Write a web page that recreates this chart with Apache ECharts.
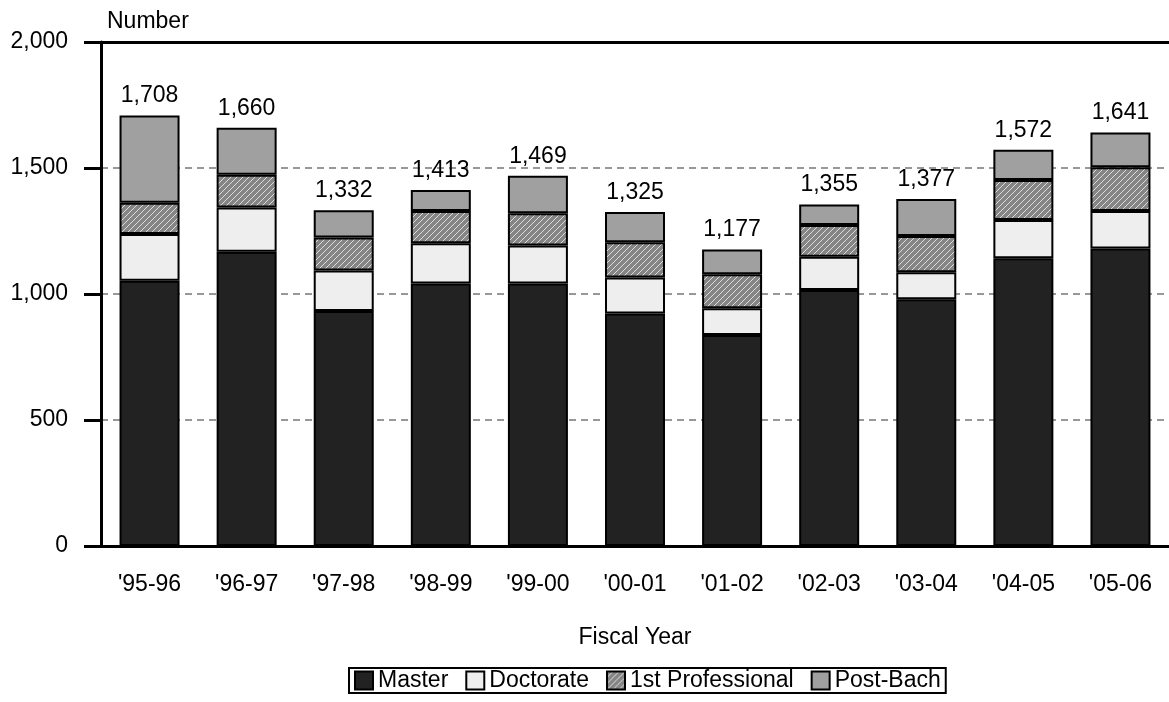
<!DOCTYPE html>
<html><head><meta charset="utf-8">
<script src="https://cdn.jsdelivr.net/npm/echarts@6/dist/echarts.min.js"></script>
<style>html,body{margin:0;padding:0;background:#fff}#c{width:1169px;height:702px}</style>
</head><body><div id="c"></div>
<script>
const categories = ["'95-96","'96-97","'97-98","'98-99","'99-00","'00-01","'01-02","'02-03","'03-04","'04-05","'05-06"];
const master     = [1053, 1168, 933, 1042, 1042, 923, 837, 1016, 979, 1142, 1181];
const doctorate  = [185, 175, 160, 159, 150, 142, 106, 132, 107, 152, 148];
const firstProf  = [124, 130, 131, 128, 128, 140, 135, 126, 144, 158, 174];
const postBach   = [346, 187, 108, 84, 149, 120, 99, 81, 147, 120, 138];
const seriesNames = ["Master", "Doctorate", "1st Professional", "Post-Bach"];
const yMin = 0, yMax = 2000, yStep = 500;

function hatch(){
  const c = document.createElement('canvas'); c.width = 6; c.height = 6;
  const g = c.getContext('2d');
  g.fillStyle = '#858585'; g.fillRect(0,0,6,6);
  g.strokeStyle = '#dcdcdc'; g.lineWidth = 1;
  g.beginPath();
  g.moveTo(0,6); g.lineTo(6,0);
  g.moveTo(-3,3); g.lineTo(3,-3);
  g.moveTo(3,9); g.lineTo(9,3);
  g.stroke();
  return c;
}
const fmt = v => Number(v).toLocaleString('en-US');
const FONT = 'Liberation Sans, Arial, sans-serif';
const FS = 23;
const border = {borderColor:'#000', borderWidth:2};
const fills = ['#222222', '#eeeeee', {image: hatch(), repeat: 'repeat'}, '#a0a0a0'];
const datasets = [master, doctorate, firstProf, postBach];

const chart = echarts.init(document.getElementById('c'));
chart.setOption({
  animation: false,
  textStyle: {fontFamily: FONT},
  grid: {left: 101, top: 42, width: 1078, height: 504},
  legend: {
    data: seriesNames, left: 349, top: 668,
    borderColor: '#000', borderWidth: 2, padding: [1, 5],
    itemWidth: 18, itemHeight: 18, itemGap: 17,
    textStyle: {fontSize: FS, color: '#000', fontFamily: FONT},
    icon: 'rect'
  },
  xAxis: [{
    type: 'category', data: categories,
    name: 'Fiscal Year', nameLocation: 'middle', nameGap: 80,
    nameTextStyle: {fontSize: FS, color: '#000', fontFamily: FONT},
    axisLine: {lineStyle: {color: '#000', width: 3}},
    axisTick: {alignWithLabel: true, length: 17, lineStyle: {color: '#000', width: 3}},
    axisLabel: {fontSize: FS, color: '#000', margin: 27, interval: 0, fontFamily: FONT}
  }, {
    type: 'category', data: categories, position: 'top',
    axisLine: {show: true, lineStyle: {color: '#000', width: 3}},
    axisTick: {show: false}, axisLabel: {show: false}
  }],
  yAxis: {
    type: 'value', min: yMin, max: yMax, interval: yStep,
    name: 'Number', nameLocation: 'end', nameGap: 9,
    nameTextStyle: {fontSize: FS, color: '#000', align: 'left', padding: [0,0,0,6], fontFamily: FONT},
    axisLine: {show: true, lineStyle: {color: '#000', width: 3}},
    axisTick: {show: true, length: 17, lineStyle: {color: '#000', width: 3}},
    axisLabel: {fontSize: FS, color: '#000', margin: 33, formatter: fmt, fontFamily: FONT},
    splitLine: {show: true, lineStyle: {color: '#777', width: 1.5, type: [7, 5]}}
  },
  series: seriesNames.map((n, i) => ({
    name: n, type: 'bar', stack: 'total', barWidth: 60,
    data: datasets[i],
    itemStyle: Object.assign({color: fills[i]}, border),
    label: i === 3 ? {
      show: true, position: 'top', distance: 8, fontSize: FS, color: '#000', fontFamily: FONT,
      formatter: p => fmt(datasets.reduce((s, d) => s + d[p.dataIndex], 0))
    } : {show: false}
  }))
});
</script></body></html>
